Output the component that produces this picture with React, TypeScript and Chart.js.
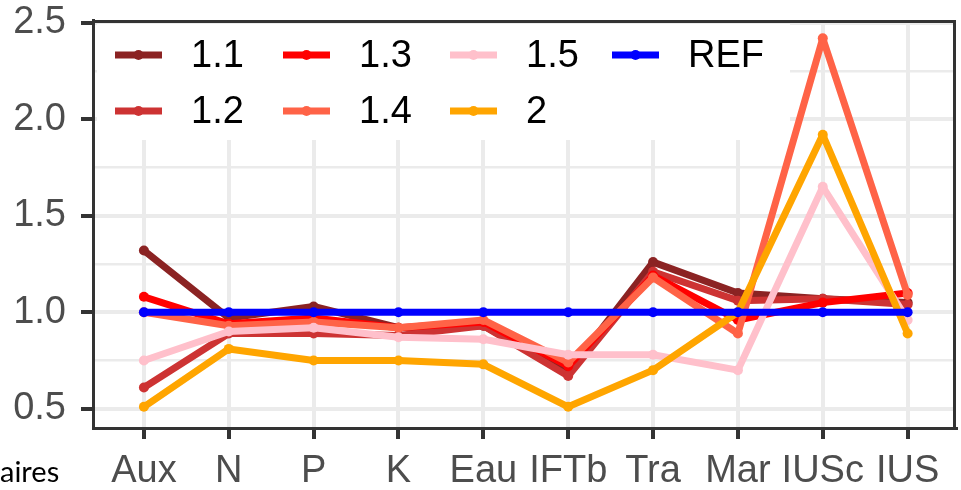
import React, { useEffect, useRef } from "react";
import { Chart, registerables } from "chart.js";
Chart.register(...registerables);

const categories = ["Aux", "N", "P", "K", "Eau", "IFTb", "Tra", "Mar", "IUSc", "IUS"];
const s11 = [1.32, 0.97, 1.03, 0.92, 0.93, 0.69, 1.26, 1.10, 1.07, 1.05];
const s12 = [0.61, 0.89, 0.89, 0.88, 0.93, 0.67, 1.21, 1.06, 1.07, 1.04];
const s13 = [1.08, 0.94, 0.97, 0.92, 0.95, 0.72, 1.19, 0.96, 1.05, 1.10];
const s14 = [1.00, 0.93, 0.95, 0.92, 0.96, 0.74, 1.18, 0.89, 2.42, 1.09];
const s15 = [0.75, 0.90, 0.92, 0.87, 0.86, 0.78, 0.78, 0.70, 1.65, 0.96];
const s2 = [0.51, 0.81, 0.75, 0.75, 0.73, 0.51, 0.70, 1.00, 1.92, 0.89];
const sRef = [1, 1, 1, 1, 1, 1, 1, 1, 1, 1];
const seriesNames = ["1.1", "1.2", "1.3", "1.4", "1.5", "2", "REF"];
const seriesValues = [s11, s12, s13, s14, s15, s2, sRef];
const seriesColors = ["#8B2323", "#CD3333", "#FF0000", "#FF6347", "#FFC0CB", "#FFA500", "#0000FF"];
const yMajorTicks = [0.5, 1.0, 1.5, 2.0, 2.5];
const yMinorTicks = [0.75, 1.25, 1.75, 2.25];
const cutText = "aires";

const LINE_W = 7;
const PT_R = 5;
const FONT = "'Liberation Sans', Arial, sans-serif";

const overlayPlugin = {
  id: "overlay",
  afterDraw(chart: any) {
    const { ctx, chartArea } = chart;
    ctx.save();
    // panel border (top and right)
    ctx.strokeStyle = "#333333";
    ctx.lineWidth = 3;
    ctx.beginPath();
    ctx.moveTo(chartArea.left, chartArea.top + 1.5);
    ctx.lineTo(chartArea.right - 1.5, chartArea.top + 1.5);
    ctx.lineTo(chartArea.right - 1.5, chartArea.bottom);
    ctx.stroke();
    // legend box
    const lx = 97, ly = 24, lw = 693, lh = 116;
    ctx.fillStyle = "#ffffff";
    ctx.fillRect(lx, ly, lw, lh);
    const colX = [115, 283, 450, 612];
    const rowY = [55, 111];
    seriesNames.forEach((name, i) => {
      const col = Math.floor(i / 2);
      const row = i % 2;
      const x = colX[col];
      const y = rowY[row];
      const c = seriesColors[i];
      ctx.strokeStyle = c;
      ctx.lineWidth = LINE_W;
      ctx.lineCap = "butt";
      ctx.beginPath();
      ctx.moveTo(x, y);
      ctx.lineTo(x + 47, y);
      ctx.stroke();
      ctx.fillStyle = c;
      ctx.beginPath();
      ctx.arc(x + 23.5, y, PT_R, 0, Math.PI * 2);
      ctx.fill();
      ctx.fillStyle = "#000000";
      ctx.font = `38px ${FONT}`;
      ctx.textAlign = "left";
      ctx.textBaseline = "middle";
      ctx.fillText(name, x + 76, y + 2);
    });
    // stray text at bottom-left
    ctx.fillStyle = "#000000";
    ctx.font = "29px Lato, 'Open Sans', sans-serif";
    ctx.textAlign = "left";
    ctx.textBaseline = "alphabetic";
    ctx.fillText(cutText, 0, 482);
    ctx.restore();
  },
};

export default function App() {
  const ref = useRef<HTMLCanvasElement | null>(null);
  useEffect(() => {
    if (!ref.current) return;
    const n = seriesNames.length;
    const datasets = seriesNames.map((name, i) => ({
      label: name,
      data: seriesValues[i].map((v, j) => ({ x: j, y: v })),
      borderColor: seriesColors[i],
      backgroundColor: seriesColors[i],
      borderWidth: LINE_W,
      borderJoinStyle: "round" as const,
      pointRadius: PT_R,
      pointBorderWidth: 0,
      pointBackgroundColor: seriesColors[i],
      tension: 0,
      order: n - 1 - i,
      fill: false,
    }));
    const allY = [...yMajorTicks, ...yMinorTicks].sort((a, b) => a - b);
    const isMajor = (v: number) => yMajorTicks.some((m) => Math.abs(m - v) < 1e-6);
    const chart = new Chart(ref.current, {
      type: "line",
      data: { datasets },
      options: {
        animation: false,
        responsive: false,
        maintainAspectRatio: false,
        layout: { padding: { top: 20, left: 0, right: 0, bottom: 0 } },
        plugins: { legend: { display: false }, tooltip: { enabled: false } },
        scales: {
          x: {
            type: "linear",
            min: -0.6,
            max: 9.57,
            afterBuildTicks: (s: any) => {
              s.ticks = categories.map((_, i) => ({ value: i }));
            },
            afterFit: (s: any) => {
              s.height = 62;
              s.paddingLeft = 0;
              s.paddingRight = 0;
            },
            ticks: {
              autoSkip: false,
              maxRotation: 0,
              color: "#4D4D4D",
              font: { size: 38, family: FONT },
              padding: 10,
              callback: (v: any) => categories[v] ?? "",
            },
            grid: {
              color: "#EBEBEB",
              lineWidth: 4,
              tickColor: "#333333",
              tickWidth: 4,
              tickLength: 11,
            },
            border: { display: true, color: "#333333", width: 3 },
          },
          y: {
            type: "linear",
            min: 0.40,
            max: 2.515,
            afterBuildTicks: (s: any) => {
              s.ticks = allY.map((v) => ({ value: v }));
            },
            afterFit: (s: any) => {
              s.width = 93;
              s.paddingTop = 0;
              s.paddingBottom = 0;
            },
            ticks: {
              autoSkip: false,
              color: "#4D4D4D",
              font: { size: 38, family: FONT },
              padding: 15,
              callback: (v: any) => (isMajor(v) ? Number(v).toFixed(1) : ""),
            },
            grid: {
              color: "#EBEBEB",
              lineWidth: (c: any) => (isMajor(c.tick?.value) ? 4 : 2.5),
              tickColor: (c: any) => (isMajor(c.tick?.value) ? "#333333" : "rgba(0,0,0,0)"),
              tickWidth: 4,
              tickLength: 12,
            },
            border: { display: true, color: "#333333", width: 3 },
          },
        },
      },
      plugins: [overlayPlugin],
    });
    return () => chart.destroy();
  }, []);
  return (
    <div style={{ position: "fixed", left: 0, top: 0, width: 961, height: 490, background: "#fff" }}>
      <canvas ref={ref} width={961} height={490} style={{ width: 961, height: 490 }} />
    </div>
  );
}
